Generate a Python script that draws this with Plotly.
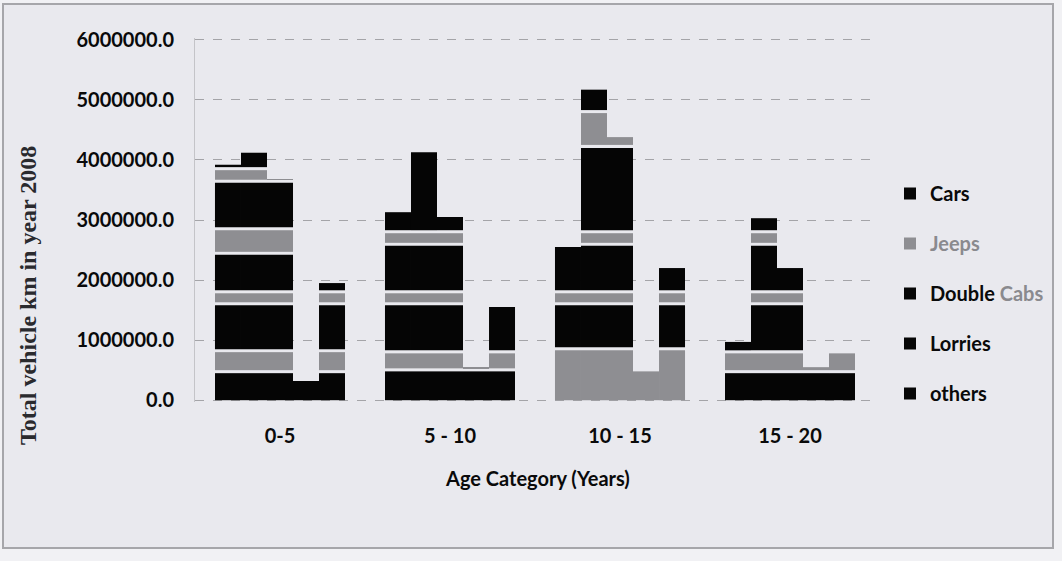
import plotly.graph_objects as go

# ---- data (values in vehicle km) ----
categories = ["0-5", "5 - 10", "10 - 15", "15 - 20"]
series = ["Cars", "Jeeps", "Double Cabs", "Lorries", "others"]
cars = [3920000, 3130000, 2550000, 970000]
jeeps = [4120000, 4130000, 5170000, 3030000]
double_cabs = [3680000, 3050000, 4380000, 2200000]
lorries = [320000, 550000, 480000, 550000]
others = [1950000, 1550000, 2200000, 780000]
values = [cars, jeeps, double_cabs, lorries, others]
tick_vals = [0, 1000000, 2000000, 3000000, 4000000, 5000000, 6000000]

# ---- style: scan banding (grey stripes, value ranges) per category ----
BLACK = "#050505"
GREY = "#8e8e92"
GAP = 50000
stripes = {
    "0-5": [(500000, 800000), (1630000, 1780000), (2470000, 2830000), (3670000, 3830000)],
    "5 - 10": [(530000, 780000), (1630000, 1780000), (2620000, 2780000)],
    "10 - 15": [(0, 830000), (1630000, 1780000), (2620000, 2780000), (4250000, 4780000)],
    "15 - 20": [(500000, 780000), (1630000, 1780000), (2620000, 2780000)],
}
legend_colors = {"Cars": BLACK, "Jeeps": GREY, "Double Cabs": BLACK, "Lorries": BLACK, "others": BLACK}
legend_names = {
    "Cars": "Cars",
    "Jeeps": "<span style='color:#8a8a8e'>Jeeps</span>",
    "Double Cabs": "Double <span style='color:#8a8a8e'>Cabs</span>",
    "Lorries": "Lorries",
    "others": "others",
}


def segments(value, strs):
    """Split a bar into black / grey pieces following the scan banding."""
    pieces = []
    cur = 0
    for lo, hi in strs:
        if cur >= value:
            break
        b_hi = min(lo - GAP, value) if lo > 0 else 0
        if b_hi > cur:
            pieces.append((cur, b_hi, BLACK))
        g_lo = max(lo, cur)
        g_hi = min(hi, value)
        if g_hi > g_lo:
            pieces.append((g_lo, g_hi, GREY))
        cur = hi + GAP
    if value > cur:
        pieces.append((cur, value, BLACK))
    return pieces


fig = go.Figure()

# legend entries
for s in series:
    fig.add_trace(go.Bar(
        x=[categories[0]], y=[0], name=legend_names[s], offsetgroup=s,
        legendgroup=s, marker=dict(color=legend_colors[s], line=dict(width=0)),
        showlegend=True, hoverinfo="skip"))

for s, vals in zip(series, values):
    for c, v in zip(categories, vals):
        for lo, hi, col in segments(v, stripes[c]):
            fig.add_trace(go.Bar(
                x=[c], y=[hi - lo], base=[lo], offsetgroup=s, legendgroup=s,
                marker=dict(color=col, line=dict(width=0)), showlegend=False,
                name=s))

L, R, T, B = 195, 187, 38, 159
W, H = 1062, 561
pw, ph = W - L - R, H - T - B


def px(x):
    return (x - L) / pw


def py(y):
    return (H - B - y) / ph


fig.update_layout(
    width=W, height=H,
    margin=dict(l=L, r=R, t=T, b=B),
    barmode="group", bargap=0.235, bargroupgap=0,
    paper_bgcolor="#f1f1f4", plot_bgcolor="rgba(0,0,0,0)",
    font=dict(family="Lato, sans-serif", color="#0a0a0a"),
    showlegend=True,
    legend=dict(x=px(890), xanchor="left", y=py(174), yanchor="top",
                font=dict(size=20, color="#0a0a0a", weight="bold"), tracegroupgap=21,
                bgcolor="rgba(0,0,0,0)", itemwidth=30),
    xaxis=dict(type="category", categoryorder="array", categoryarray=categories,
               tickfont=dict(size=20, weight="bold"), ticklabelstandoff=20, showgrid=False,
               showline=False, ticks=""),
    yaxis=dict(range=[-30000, 6030000], tickvals=tick_vals, tickformat=".1f",
               tickfont=dict(size=20, weight="bold"), ticklabelstandoff=16,
               showgrid=True, gridcolor="#a4a4a8", griddash="dash", gridwidth=1,
               showline=True, linecolor="#c4c4c8", linewidth=1, zeroline=False),
    shapes=[
        dict(type="rect", xref="paper", yref="paper", layer="below",
             x0=px(3), x1=px(1053), y0=py(548), y1=py(4),
             line=dict(color="#a6a6aa", width=2), fillcolor="#e9e9ee"),
    ],
    annotations=[
        dict(text="<b>Total vehicle km in year 2008</b>", xref="paper", yref="paper",
             x=px(28), y=py(296), textangle=-90, showarrow=False,
             font=dict(family="Liberation Serif, serif", size=24, color="#2a2a2e"),
             xanchor="center", yanchor="middle"),
        dict(text="<b>Age Category (Years)</b>", xref="paper", yref="paper",
             x=px(537), y=py(478), showarrow=False,
             font=dict(family="Lato, sans-serif", size=20, color="#0a0a0a"),
             xanchor="center", yanchor="middle"),
    ],
)

fig.write_html("out.html")
